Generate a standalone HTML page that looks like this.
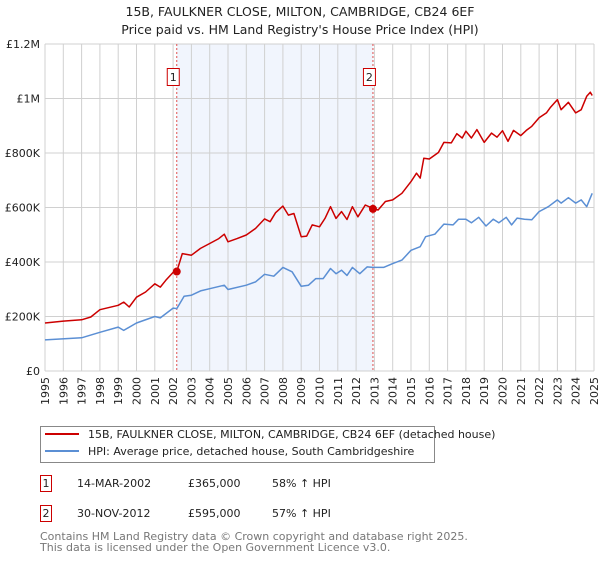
<!DOCTYPE html>
<html><head><meta charset="utf-8"><style>
body{margin:0;background:#fff;font-family:"Liberation Sans","DejaVu Sans",sans-serif;}
svg text{font-family:"DejaVu Sans","Liberation Sans",sans-serif;}
</style></head><body>
<svg id="chart" width="600" height="560" xmlns="http://www.w3.org/2000/svg">
<text x="300" y="16" text-anchor="middle" font-size="12.5" fill="#222">15B, FAULKNER CLOSE, MILTON, CAMBRIDGE, CB24 6EF</text>
<text x="300" y="34" text-anchor="middle" font-size="12.5" fill="#222">Price paid vs. HM Land Registry's House Price Index (HPI)</text>
<g id="grid"></g><g id="series"></g><g id="axes"></g>
<rect x="40.5" y="426.5" width="394" height="36" fill="#fff" stroke="#888"/>
<line x1="45" y1="434" x2="79" y2="434" stroke="#cc0000" stroke-width="2"/>
<text x="88" y="438" font-size="11" fill="#222">15B, FAULKNER CLOSE, MILTON, CAMBRIDGE, CB24 6EF (detached house)</text>
<line x1="45" y1="451" x2="79" y2="451" stroke="#5b8fd4" stroke-width="2"/>
<text x="88" y="455" font-size="11" fill="#222">HPI: Average price, detached house, South Cambridgeshire</text>
<rect x="40.5" y="475.5" width="11" height="16" fill="none" stroke="#cc0000"/>
<text x="46" y="487" text-anchor="middle" font-size="11" fill="#222">1</text>
<text x="77" y="487" font-size="11" fill="#222">14-MAR-2002</text>
<text x="188" y="487" font-size="11" fill="#222">£365,000</text>
<text x="272" y="487" font-size="11" fill="#222">58% ↑ HPI</text>
<rect x="40.5" y="505.5" width="11" height="16" fill="none" stroke="#cc0000"/>
<text x="46" y="517" text-anchor="middle" font-size="11" fill="#222">2</text>
<text x="77" y="517" font-size="11" fill="#222">30-NOV-2012</text>
<text x="188" y="517" font-size="11" fill="#222">£595,000</text>
<text x="272" y="517" font-size="11" fill="#222">57% ↑ HPI</text>
<text x="40" y="540" font-size="11" fill="#777">Contains HM Land Registry data © Crown copyright and database right 2025.</text>
<text x="40" y="551" font-size="11" fill="#777">This data is licensed under the Open Government Licence v3.0.</text>
</svg>
<script>
const yearTicks=[1995,1996,1997,1998,1999,2000,2001,2002,2003,2004,2005,2006,2007,2008,2009,2010,2011,2012,2013,2014,2015,2016,2017,2018,2019,2020,2021,2022,2023,2024,2025];
const yTicks=[0,200,400,600,800,1000,1200];
const yTickLabels=["£0","£200K","£400K","£600K","£800K","£1M","£1.2M"];
const priceT=[1995,1996,1997,1997.5,1998,1999,1999.3,1999.6,2000,2000.5,2001,2001.3,2001.6,2002,2002.2,2002.5,2003,2003.5,2004,2004.5,2004.8,2005,2005.5,2006,2006.5,2007,2007.3,2007.6,2008,2008.3,2008.6,2009,2009.3,2009.6,2010,2010.3,2010.6,2010.9,2011.2,2011.5,2011.8,2012.1,2012.5,2012.9,2013.2,2013.6,2014,2014.5,2015,2015.3,2015.5,2015.7,2016,2016.5,2016.8,2017.2,2017.5,2017.8,2018,2018.3,2018.6,2019,2019.4,2019.7,2020,2020.3,2020.6,2021,2021.3,2021.6,2022,2022.4,2022.6,2023,2023.2,2023.6,2024,2024.3,2024.6,2024.8,2024.9];
const priceV=[176,183,188,198,225,241,253,235,271,290,320,308,333,362,365,431,425,450,468,486,502,474,486,499,523,558,548,581,605,572,578,493,495,536,529,560,603,560,585,556,603,566,609,597,591,622,628,652,695,726,708,781,778,802,839,837,871,855,880,855,886,839,873,858,882,843,883,864,883,898,929,947,966,996,959,986,947,959,1008,1023,1011];
const hpiT=[1995,1997,1998,1999,1999.3,2000,2001,2001.3,2002,2002.2,2002.6,2003,2003.5,2004,2004.8,2005,2006,2006.5,2007,2007.5,2008,2008.5,2009,2009.4,2009.8,2010.2,2010.6,2010.9,2011.2,2011.5,2011.8,2012.2,2012.6,2012.9,2013.5,2014,2014.5,2015,2015.5,2015.8,2016.3,2016.8,2017.3,2017.6,2018,2018.3,2018.7,2019.1,2019.5,2019.8,2020.2,2020.5,2020.8,2021.2,2021.6,2022,2022.5,2023,2023.2,2023.6,2024,2024.3,2024.6,2024.9];
const hpiV=[114,122,142,161,149,176,200,195,231,229,274,278,294,302,315,299,315,327,355,348,380,364,311,315,339,339,376,357,370,351,380,357,382,380,380,394,407,443,456,493,502,539,536,557,557,544,564,532,557,544,564,536,561,557,555,585,603,628,616,636,616,628,603,652];
const saleT=[2002.2,2012.92];
const saleV=[365,595];
const saleLabels=["1","2"];
const NS="http://www.w3.org/2000/svg";
const L=45,R=594,T=44,B=371;
const x=t=>L+(t-1995)/30*(R-L);
const y=v=>B-v/1200*(B-T);
function mk(tag,attrs,parent){const e=document.createElementNS(NS,tag);for(const k in attrs)e.setAttribute(k,attrs[k]);document.getElementById(parent).appendChild(e);return e;}
let e=mk('rect',{x:x(saleT[0]),y:T,width:x(saleT[1])-x(saleT[0]),height:B-T,fill:'#eef3fc',opacity:0.8},'grid');


yearTicks.forEach(t=>{
 let g=mk('line',{x1:x(t),x2:x(t),y1:T,y2:B,stroke:'#d0d0d0'},'grid');
 
 
 let tx=mk('text',{x:0,y:0,'font-size':11,fill:'#222','text-anchor':'end',transform:`translate(${x(t)+4},${B+6}) rotate(-90)`},'axes');
 tx.textContent=t;
 
 
});
yTicks.forEach((v,i)=>{
 let g=mk('line',{x1:L,x2:R,y1:y(v),y2:y(v),stroke:'#d0d0d0'},'grid');
 
 
 let tx=mk('text',{x:L-5,y:y(v)+4,'font-size':11,fill:'#222','text-anchor':'end'},'axes');
 tx.textContent=yTickLabels[i];
 
 
});
saleT.forEach((t,i)=>{
 let l=mk('line',{x1:x(t),x2:x(t),y1:T,y2:B,stroke:'#e05050','stroke-dasharray':'2,2','stroke-width':1},'grid');
 
 
 let bx=mk('rect',{x:x(t)-9.5,y:68.5,width:12,height:17,fill:'#fff',stroke:'#cc0000'},'axes');
 
 
 let tx=mk('text',{x:x(t)-3.5,y:81,'font-size':11,fill:'#222','text-anchor':'middle'},'axes');
 tx.textContent=saleLabels[i];
 
 
});
function line(ts,vs,col,name){
 const d=ts.map((t,i)=>(i?'L':'M')+x(t).toFixed(1)+','+y(vs[i]).toFixed(1)).join('');
 let p=mk('path',{d:d,fill:'none',stroke:col,'stroke-width':1.5,'stroke-linejoin':'round'},'series');
 
 
}
line(hpiT,hpiV,'#5b8fd4','hpi-line');
line(priceT,priceV,'#cc0000','property-price-line');
saleT.forEach((t,i)=>{
 let c=mk('circle',{cx:x(t),cy:y(saleV[i]),r:4,fill:'#cc0000'},'series');
 
 
});
</script>
</body></html>
